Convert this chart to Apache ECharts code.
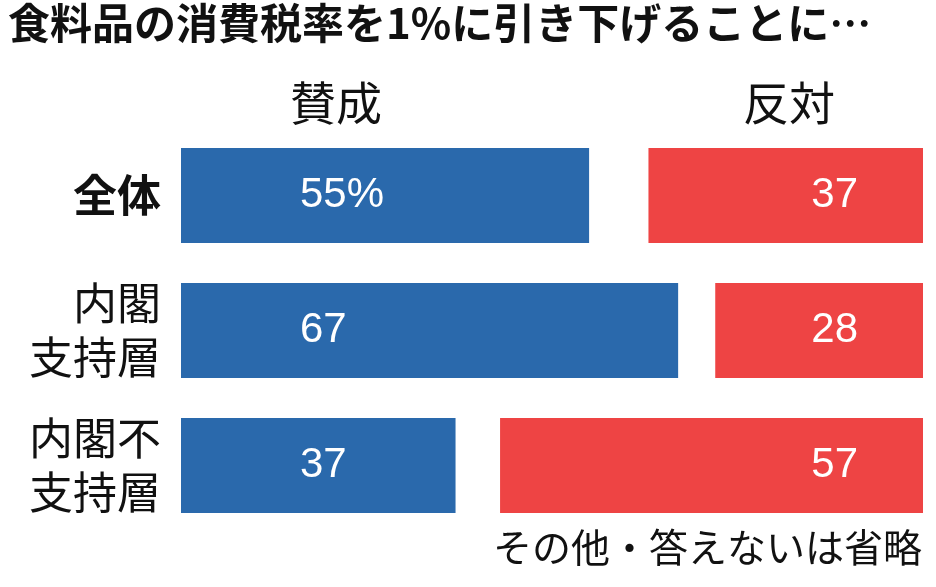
<!DOCTYPE html>
<html><head><meta charset="utf-8">
<script src="https://cdn.jsdelivr.net/npm/echarts@6/dist/echarts.min.js"></script>
<style>html,body{margin:0;background:#fff}#c{width:936px;height:587px}</style>
</head><body><div id="c"></div>
<script>
const categories = ['全体', '内閣\n支持層', '内閣不\n支持層'];
const agree = [55, 67, 37];
const disagree = [37, 28, 57];
const agreeLabels = ['55%', '67', '37'];

const gap = agree.map((a, i) => 100 - a - disagree[i]);
const font = '"Noto Sans CJK JP", sans-serif';
const chart = echarts.init(document.getElementById('c'));
chart.setOption({
  animation: false,
  textStyle: { fontFamily: font },
  grid: { left: 181, right: 13, top: 128, height: 405 },
  xAxis: { type: 'value', min: 0, max: 100, show: false },
  yAxis: {
    type: 'category', data: categories, inverse: true,
    axisLine: { show: false }, axisTick: { show: false },
    axisLabel: {
      margin: 20, fontSize: 44, lineHeight: 54, color: '#111', fontFamily: font,
      formatter: (v, i) => i === 0 ? '{b|' + v + '}' : v,
      rich: { b: { fontSize: 44, fontWeight: 'bold', color: '#111', fontFamily: font } }
    }
  },
  series: [
    { type: 'bar', stack: 's', data: agree, barWidth: 95, itemStyle: { color: '#2a69ac' },
      label: { show: true, position: 'insideLeft', offset: [114, 0], color: '#fff', fontSize: 42,
        fontFamily: 'Liberation Sans, Arial', formatter: p => agreeLabels[p.dataIndex] } },
    { type: 'bar', stack: 's', data: gap, itemStyle: { color: 'transparent' } },
    { type: 'bar', stack: 's', data: disagree, itemStyle: { color: '#ee4444' },
      label: { show: true, position: 'insideRight', offset: [-60, 0], color: '#fff', fontSize: 42,
        fontFamily: 'Liberation Sans, Arial' } }
  ],
  graphic: [
    { type: 'text', left: 8, top: 2, style: { text: '食料品の消費税率を1%に引き下げることに…', font: 'bold 42px ' + font, fill: '#111' } },
    { type: 'text', left: 290, top: 80, style: { text: '賛成', font: '46px ' + font, fill: '#111' } },
    { type: 'text', left: 743, top: 80, style: { text: '反対', font: '46px ' + font, fill: '#111' } },
    { type: 'text', right: 14, top: 528, style: { text: 'その他・答えないは省略', font: '39px ' + font, fill: '#111' } }
  ]
});
</script></body></html>
